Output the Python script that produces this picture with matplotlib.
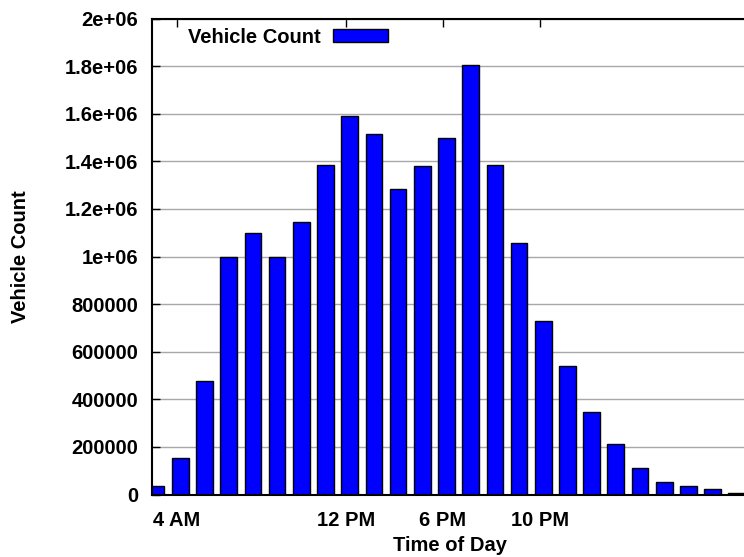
import matplotlib
matplotlib.use("Agg")
import matplotlib.pyplot as plt
import numpy as np

# hourly vehicle counts, one bar per hour slot
counts = [36000, 153000, 477000, 1000000, 1097000, 999000, 1144000, 1384000,
          1592000, 1516000, 1282000, 1381000, 1497000, 1805000, 1384000,
          1056000, 727000, 540000, 345000, 213000, 113000, 51000, 37000,
          22000, 5000]
hour_labels = ["4 AM", "12 PM", "6 PM", "10 PM"]
hour_pos = [0.85, 7.85, 11.85, 15.85]
yticks = [0, 200000, 400000, 600000, 800000, 1000000, 1200000, 1400000,
          1600000, 1800000, 2000000]
ytick_labels = ["0", "200000", "400000", "600000", "800000", "1e+06",
                "1.2e+06", "1.4e+06", "1.6e+06", "1.8e+06", "2e+06"]

plt.rcParams["font.family"] = ["Liberation Sans", "DejaVu Sans"]
plt.rcParams["font.weight"] = "bold"
fs = 14.5

fig = plt.figure(figsize=(7.44, 5.57), dpi=100)
W, H = 744.0, 557.0
ax = fig.add_axes([152 / W, (H - 494.5) / H, (747.7 - 152) / W, (494.5 - 18.5) / H])

x = np.arange(len(counts))
ax.bar(x, counts, width=0.69, color="#0000ff", edgecolor="black",
       linewidth=1.0, label="Vehicle Count", zorder=2)

ax.set_xlim(-0.17, 24.45)
ax.set_ylim(0, 2000000)

ax.set_yticks(yticks)
ax.set_yticklabels(ytick_labels, fontsize=fs, fontweight="bold")
ax.set_xticks(hour_pos)
ax.set_xticklabels(hour_labels, fontsize=fs, fontweight="bold")

ax.tick_params(axis="y", direction="in", length=6, width=1, pad=10,
               left=True, right=False)
ax.tick_params(axis="x", direction="in", length=6, width=1, pad=12,
               top=True, bottom=True)

ax.grid(axis="y", color="#a8a8a8", linewidth=1.0, zorder=0)
ax.set_axisbelow(True)

for s in ["left", "bottom", "top"]:
    ax.spines[s].set_linewidth(1.5)
ax.spines["right"].set_visible(False)

ax.set_xlabel("Time of Day", fontsize=fs, fontweight="bold")
ax.set_ylabel("Vehicle Count", fontsize=fs, fontweight="bold")
ax.xaxis.set_label_coords(0.5, -0.088)
ax.yaxis.set_label_coords(-0.205, 0.5)

ax.legend(loc="upper left", bbox_to_anchor=(0.03, 1.019), frameon=False,
          markerfirst=False, handlelength=2.75, handleheight=0.55,
          handletextpad=0.6, prop={"size": fs, "weight": "bold"})

fig.savefig("out.png", dpi=100)
